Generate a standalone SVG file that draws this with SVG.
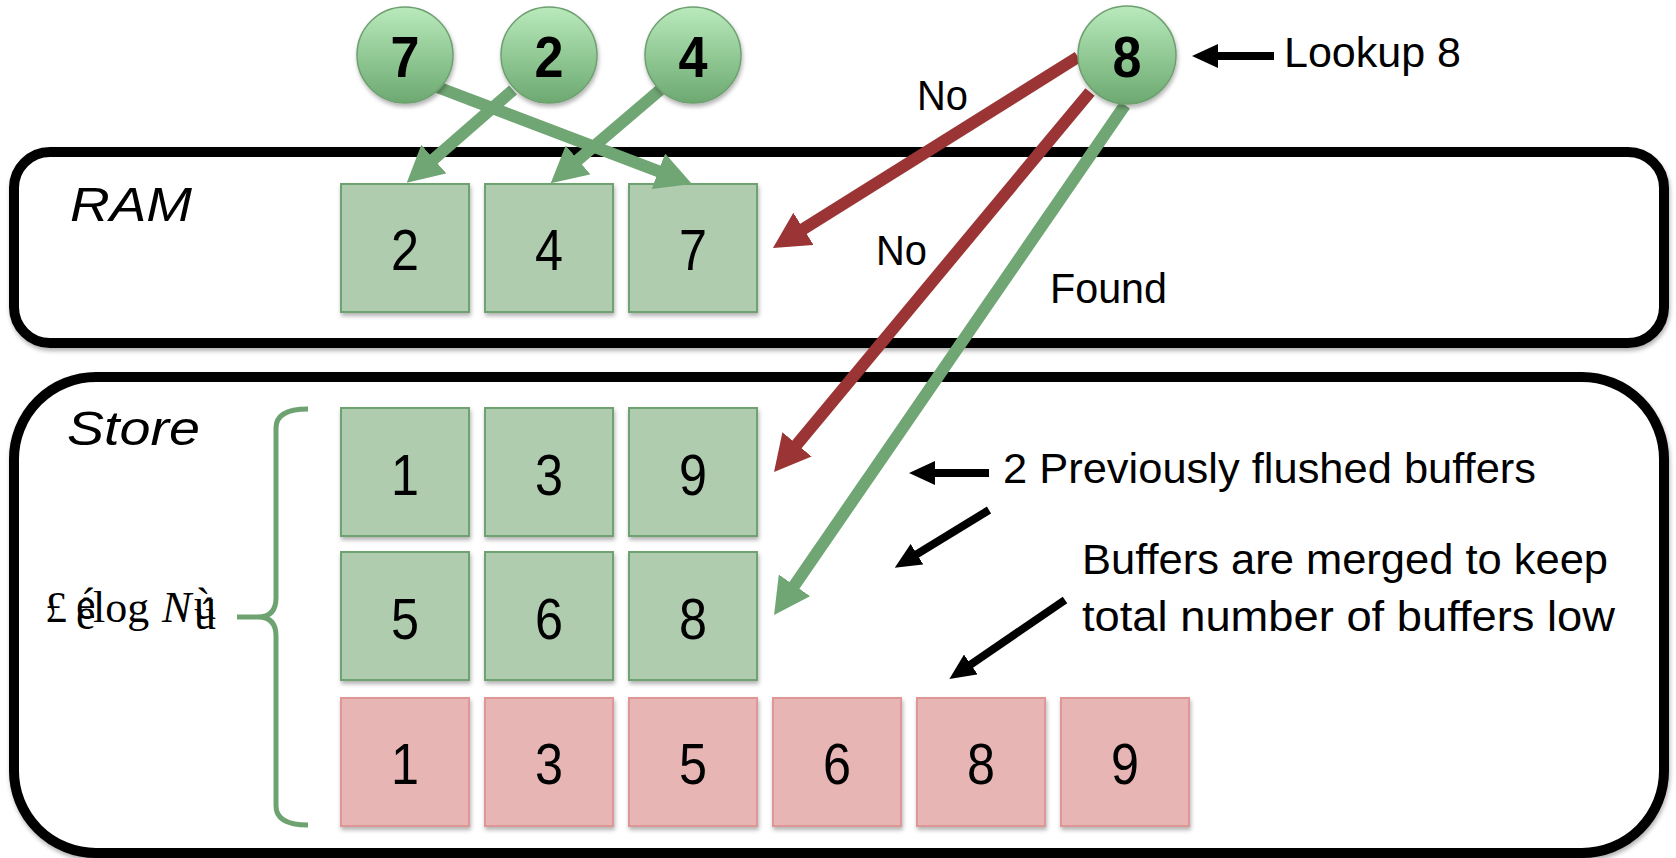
<svg xmlns="http://www.w3.org/2000/svg" width="1676" height="858" viewBox="0 0 1676 858">
  <defs>
    <linearGradient id="ballFill" x1="0" y1="0" x2="0" y2="1">
      <stop offset="0" stop-color="#b9eabc"/>
      <stop offset="1" stop-color="#6ca970"/>
    </linearGradient>
    <filter id="shadow" x="-10%" y="-10%" width="130%" height="130%">
      <feDropShadow dx="1" dy="3" stdDeviation="2" flood-color="#000" flood-opacity="0.3"/>
    </filter>
    <marker id="headGreen" markerUnits="userSpaceOnUse" viewBox="0 0 36 38" markerWidth="36" markerHeight="38" refX="16" refY="19" orient="auto">
      <path d="M0,0 L36,19 L0,38 Z" fill="#70a574"/>
    </marker>
    <marker id="headRed" markerUnits="userSpaceOnUse" viewBox="0 0 36 38" markerWidth="36" markerHeight="38" refX="16" refY="19" orient="auto">
      <path d="M0,0 L36,19 L0,38 Z" fill="#9b3434"/>
    </marker>
    <marker id="headBlack" markerUnits="userSpaceOnUse" viewBox="0 0 26 24" markerWidth="26" markerHeight="24" refX="12" refY="12" orient="auto">
      <path d="M0,0 L26,12 L0,24 Z" fill="#000"/>
    </marker>
    <style>
      .frame { fill: #fff; stroke: #000; stroke-width: 10; filter: url(#shadow); }
      .cellG { fill: #afccaf; stroke: #6ea371; stroke-width: 2; filter: url(#shadow); }
      .cellR { fill: #e8b5b5; stroke: #e09696; stroke-width: 2; filter: url(#shadow); }
      .num { font-family: "Liberation Sans", Arial, sans-serif; font-size: 57px; text-anchor: middle; fill: #000; }
      .ball { fill: url(#ballFill); stroke: #6e9f70; stroke-width: 1.5; filter: url(#shadow); }
      .ballnum { font-family: "Liberation Sans", Arial, sans-serif; font-weight: bold; font-size: 58px; text-anchor: middle; fill: #000; }
      .lbl { font-family: "Liberation Sans", Arial, sans-serif; font-size: 42px; fill: #000; }
      .title { font-family: "Liberation Sans", Arial, sans-serif; font-style: italic; font-size: 48px; fill: #000; }
      .math { font-family: "Liberation Serif", "Times New Roman", serif; font-size: 44px; fill: #000; }
      .arrG { fill: none; stroke: #70a574; stroke-width: 12; marker-end: url(#headGreen); }
      .arrR { fill: none; stroke: #9b3434; stroke-width: 12; marker-end: url(#headRed); }
      .arrK { fill: none; stroke: #000; stroke-width: 8; marker-end: url(#headBlack); }
      .brace { fill: none; stroke: #6ea371; stroke-width: 5; }
    </style>
  </defs>

  <!-- memory tiers -->
  <g id="ram">
    <rect class="frame" x="14" y="152" width="1650" height="191" rx="36"/>
    <text class="title" x="70" y="221" textLength="122" lengthAdjust="spacingAndGlyphs">RAM</text>
  </g>
  <g id="store">
    <rect class="frame" x="14" y="377" width="1650" height="476" rx="82"/>
    <text class="title" x="67" y="445" textLength="133" lengthAdjust="spacingAndGlyphs">Store</text>
  </g>

  <!-- in-memory buffer -->
  <g id="ram-buffer">
    <rect class="cellG" x="341" y="184" width="128" height="128"/>
    <rect class="cellG" x="485" y="184" width="128" height="128"/>
    <rect class="cellG" x="629" y="184" width="128" height="128"/>
    <text class="num" x="405" y="270" textLength="28" lengthAdjust="spacingAndGlyphs">2</text>
    <text class="num" x="549" y="270" textLength="28" lengthAdjust="spacingAndGlyphs">4</text>
    <text class="num" x="693" y="270" textLength="28" lengthAdjust="spacingAndGlyphs">7</text>
  </g>

  <!-- flushed buffers -->
  <g id="flushed-1">
    <rect class="cellG" x="341" y="408" width="128" height="128"/>
    <rect class="cellG" x="485" y="408" width="128" height="128"/>
    <rect class="cellG" x="629" y="408" width="128" height="128"/>
    <text class="num" x="405" y="495" textLength="28" lengthAdjust="spacingAndGlyphs">1</text>
    <text class="num" x="549" y="495" textLength="28" lengthAdjust="spacingAndGlyphs">3</text>
    <text class="num" x="693" y="495" textLength="28" lengthAdjust="spacingAndGlyphs">9</text>
  </g>
  <g id="flushed-2">
    <rect class="cellG" x="341" y="552" width="128" height="128"/>
    <rect class="cellG" x="485" y="552" width="128" height="128"/>
    <rect class="cellG" x="629" y="552" width="128" height="128"/>
    <text class="num" x="405" y="639" textLength="28" lengthAdjust="spacingAndGlyphs">5</text>
    <text class="num" x="549" y="639" textLength="28" lengthAdjust="spacingAndGlyphs">6</text>
    <text class="num" x="693" y="639" textLength="28" lengthAdjust="spacingAndGlyphs">8</text>
  </g>

  <!-- merged buffer -->
  <g id="merged">
    <rect class="cellR" x="341" y="698" width="128" height="128"/>
    <rect class="cellR" x="485" y="698" width="128" height="128"/>
    <rect class="cellR" x="629" y="698" width="128" height="128"/>
    <rect class="cellR" x="773" y="698" width="128" height="128"/>
    <rect class="cellR" x="917" y="698" width="128" height="128"/>
    <rect class="cellR" x="1061" y="698" width="128" height="128"/>
    <text class="num" x="405" y="784" textLength="28" lengthAdjust="spacingAndGlyphs">1</text>
    <text class="num" x="549" y="784" textLength="28" lengthAdjust="spacingAndGlyphs">3</text>
    <text class="num" x="693" y="784" textLength="28" lengthAdjust="spacingAndGlyphs">5</text>
    <text class="num" x="837" y="784" textLength="28" lengthAdjust="spacingAndGlyphs">6</text>
    <text class="num" x="981" y="784" textLength="28" lengthAdjust="spacingAndGlyphs">8</text>
    <text class="num" x="1125" y="784" textLength="28" lengthAdjust="spacingAndGlyphs">9</text>
  </g>

  <!-- bound on the number of buffers (ceiling pieces stacked per glyph) -->
  <g id="bound">
    <path class="brace" d="M308,409 Q276,409 276,428 L276,598 Q276,617 258,617 L237,617 M258,617 Q276,617 276,636 L276,806 Q276,825 308,825"/>
    <text class="math" x="45 62 76 76 93" y="622 622 619 629 622">£ éêlog<tspan font-style="italic" x="162" y="622">N</tspan><tspan x="194 194" y="619 629">ùú</tspan></text>
  </g>

  <!-- inserts, probes and notes -->
  <g id="connectors">
    <line class="arrG" x1="437" y1="87" x2="673.3" y2="176.9"/>
    <line class="arrG" x1="513" y1="90" x2="421.8" y2="169.6"/>
    <line class="arrG" x1="660" y1="90" x2="565.9" y2="170.3"/>
    <line class="arrR" x1="1078" y1="57" x2="789.9" y2="237.3"/>
    <line class="arrR" x1="1090" y1="92" x2="786.8" y2="456.6"/>
    <line class="arrG" x1="1125" y1="105" x2="785.4" y2="598.5"/>
    <line class="arrK" x1="1274" y1="56" x2="1206" y2="56"/>
    <line class="arrK" x1="989" y1="473" x2="923" y2="473"/>
    <line class="arrK" x1="989" y1="510" x2="906.7" y2="560.4"/>
    <line class="arrK" x1="1065" y1="600" x2="960.9" y2="671.2"/>
  </g>

  <g id="labels">
    <text class="lbl" x="917" y="110" textLength="51" lengthAdjust="spacingAndGlyphs">No</text>
    <text class="lbl" x="876" y="265" textLength="51" lengthAdjust="spacingAndGlyphs">No</text>
    <text class="lbl" x="1050" y="303" textLength="117" lengthAdjust="spacingAndGlyphs">Found</text>
    <text class="lbl" x="1284" y="67" textLength="177" lengthAdjust="spacingAndGlyphs">Lookup 8</text>
    <text class="lbl" x="1003" y="483" textLength="533" lengthAdjust="spacingAndGlyphs">2 Previously flushed buffers</text>
    <text class="lbl" x="1082" y="574" textLength="526" lengthAdjust="spacingAndGlyphs">Buffers are merged to keep</text>
    <text class="lbl" x="1082" y="631" textLength="533" lengthAdjust="spacingAndGlyphs">total number of buffers low</text>
  </g>

  <!-- keys -->
  <g id="key-7">
    <circle class="ball" cx="405" cy="55" r="48"/>
    <text class="ballnum" x="405" y="77" textLength="29" lengthAdjust="spacingAndGlyphs">7</text>
  </g>
  <g id="key-2">
    <circle class="ball" cx="549" cy="55" r="48"/>
    <text class="ballnum" x="549" y="77" textLength="29" lengthAdjust="spacingAndGlyphs">2</text>
  </g>
  <g id="key-4">
    <circle class="ball" cx="693" cy="55" r="48"/>
    <text class="ballnum" x="693" y="77" textLength="29" lengthAdjust="spacingAndGlyphs">4</text>
  </g>
  <g id="key-8">
    <circle class="ball" cx="1127" cy="55" r="49"/>
    <text class="ballnum" x="1127" y="77" textLength="29" lengthAdjust="spacingAndGlyphs">8</text>
  </g>
</svg>
